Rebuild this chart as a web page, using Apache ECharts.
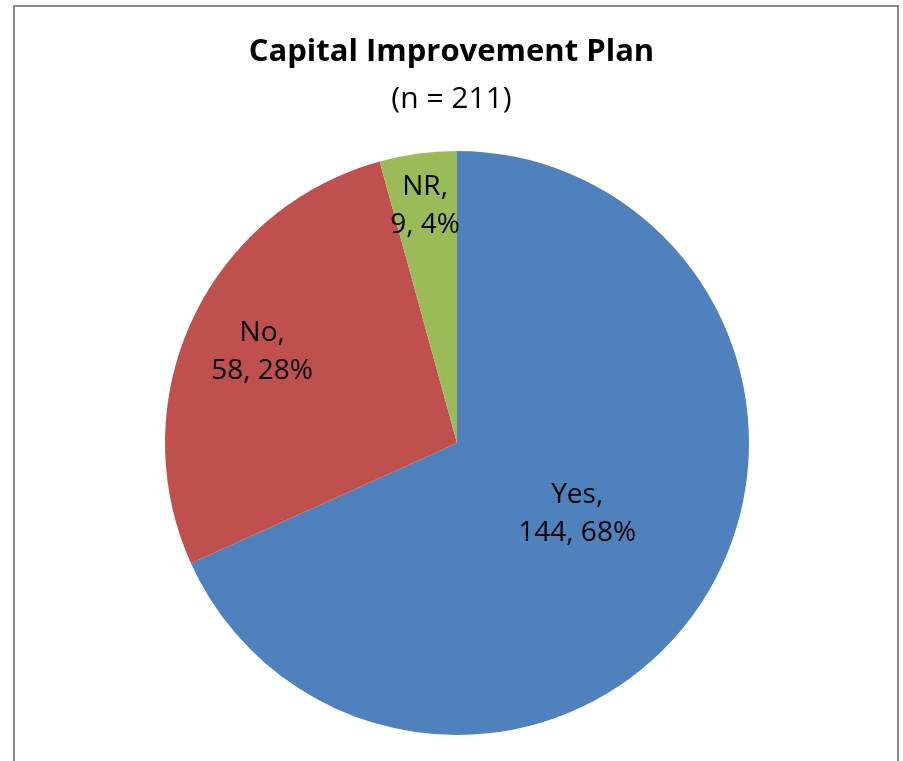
<!DOCTYPE html>
<html>
<head>
<meta charset="utf-8">
<script src="https://cdn.jsdelivr.net/npm/echarts@6/dist/echarts.min.js"></script>
<style>
html,body{margin:0;padding:0;background:#fff;}
#chart{width:903px;height:761px;}
</style>
</head>
<body>
<div id="chart"></div>
<script>
const titleText = 'Capital Improvement Plan';
const subtitleText = '(n = 211)';
const categories = ['Yes', 'No', 'NR'];
const counts = [144, 58, 9];
const percents = [68, 28, 4];
const colors = ['#4F81BD', '#C0504D', '#9BBB59'];

// label nudges (style), keyed by category
const labelNudge = { Yes: [-5, -10], No: [-60, -28], NR: [-12, -89] };

const FONT = '"Open Sans", "Noto Sans", sans-serif';

const chart = echarts.init(document.getElementById('chart'));
chart.setOption({
  animation: false,
  backgroundColor: '#ffffff',
  title: [
    {
      text: titleText, left: 'center', top: 28,
      textStyle: { fontFamily: FONT, fontSize: 31, fontWeight: 'bold', color: '#000', lineHeight: 38 }
    },
    {
      text: subtitleText, left: 'center', top: 75,
      textStyle: { fontFamily: FONT, fontSize: 30, fontWeight: 'normal', color: '#000', lineHeight: 38 }
    }
  ],
  graphic: [
    {
      type: 'rect', silent: true, z: -1,
      shape: { x: 14, y: 6, width: 884, height: 820 },
      style: { fill: 'none', stroke: '#888888', lineWidth: 2 }
    }
  ],
  series: [
    {
      type: 'pie',
      center: [457, 443],
      radius: 292,
      startAngle: 90,
      clockwise: true,
      avoidLabelOverlap: false,
      itemStyle: { borderWidth: 0 },
      label: {
        show: true,
        position: 'inside',
        fontFamily: FONT,
        fontSize: 28,
        lineHeight: 38,
        color: '#000',
        align: 'center',
        formatter: function (p) {
          return p.name + ',\n' + p.value + ', ' + percents[p.dataIndex] + '%';
        }
      },
      labelLine: { show: false },
      labelLayout: function (params) {
        const n = labelNudge[categories[params.dataIndex]];
        return { dx: n[0], dy: n[1] };
      },
      emphasis: { disabled: true },
      data: categories.map(function (c, i) {
        return { name: c, value: counts[i], itemStyle: { color: colors[i] } };
      })
    }
  ]
});
</script>
</body>
</html>
